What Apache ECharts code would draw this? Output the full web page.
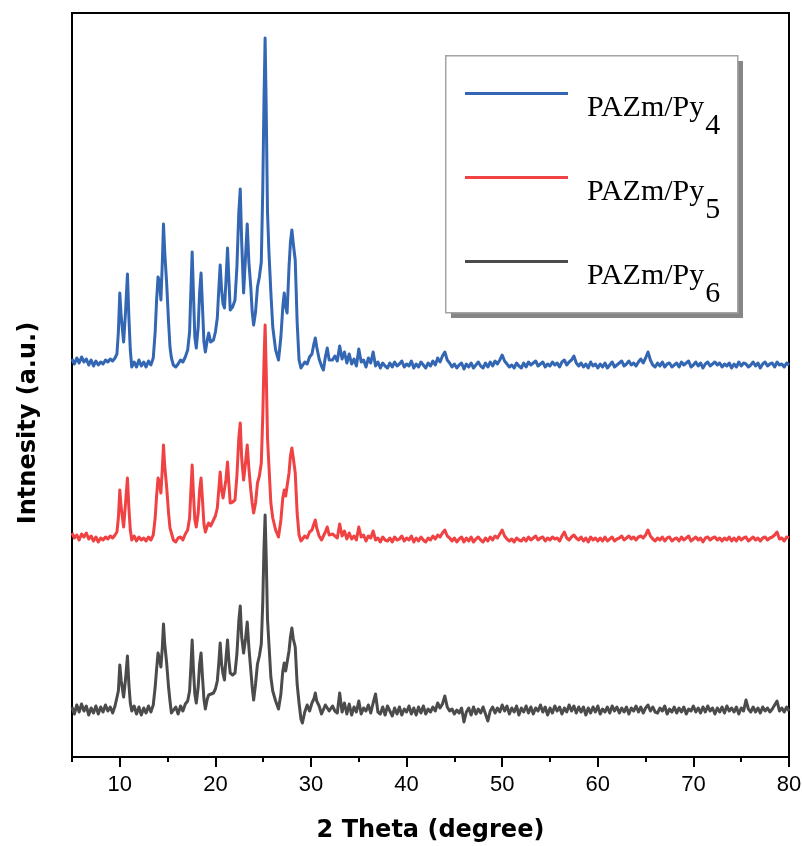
<!DOCTYPE html>
<html>
<head>
<meta charset="utf-8">
<title>XRD PAZm/Py</title>
<script src="https://cdn.jsdelivr.net/npm/echarts@6/dist/echarts.min.js"></script>
<style>
  html, body { margin: 0; padding: 0; background: #fff; }
  #chart { width: 802px; height: 846px; }
</style>
</head>
<body>
<div id="chart"></div>
<script>
// 2 theta (degree) sampling positions
const angles = [
  5, 5.25, 5.5, 5.75, 6, 6.25, 6.5, 6.75, 7, 7.25, 7.5, 7.75, 8, 8.25, 8.5, 8.75, 9, 9.25, 9.5,
  9.7, 9.85, 10.0, 10.15, 10.4, 10.6, 10.8, 10.95, 11.1, 11.25,
  11.5, 11.75, 12.0, 12.25, 12.5, 12.75, 13.0, 13.25, 13.5, 13.7,
  13.85, 14.0, 14.15, 14.3, 14.45, 14.57, 14.7, 14.9, 15.1, 15.25,
  15.4, 15.6, 15.85, 16.1, 16.35, 16.6, 16.85, 17.1, 17.3, 17.45,
  17.57, 17.7, 17.85, 18.0, 18.2, 18.35, 18.5, 18.65, 18.8, 18.95,
  19.15, 19.3, 19.5, 19.8, 20.0, 20.2, 20.35, 20.5, 20.65, 20.8,
  20.95, 21.1, 21.27, 21.4, 21.55, 21.8, 22.05, 22.25, 22.45, 22.6,
  22.75, 22.95, 23.15, 23.33, 23.5, 23.7, 23.85, 24.0, 24.2, 24.4,
  24.6, 24.8, 24.95, 25.08, 25.2, 25.32, 25.45, 25.6, 25.8, 26.0,
  26.3, 26.6, 26.85, 27.05, 27.2, 27.35, 27.5, 27.7, 27.85, 28.0,
  28.15, 28.35, 28.55, 28.75, 28.95, 29.1, 29.35, 29.6, 29.85, 30.1,
  30.3, 30.45, 30.6, 30.85, 31.1, 31.3, 31.5, 31.7, 31.9,
  32.25, 32.5, 32.75, 33, 33.25, 33.5, 33.75, 34,
  34.25, 34.5, 34.75, 35, 35.25, 35.5, 35.75, 36,
  36.25, 36.5, 36.75, 37, 37.25, 37.5, 37.75, 38,
  38.25, 38.5, 38.75, 39, 39.25, 39.5, 39.75, 40,
  40.25, 40.5, 40.75, 41, 41.25, 41.5, 41.75, 42,
  42.25, 42.5, 42.75, 43, 43.25, 43.5, 43.75, 44,
  44.25, 44.5, 44.75, 45, 45.25, 45.5, 45.75, 46,
  46.25, 46.5, 46.75, 47, 47.25, 47.5, 47.75, 48,
  48.25, 48.5, 48.75, 49, 49.25, 49.5, 49.75, 50,
  50.25, 50.5, 50.75, 51, 51.25, 51.5, 51.75, 52,
  52.25, 52.5, 52.75, 53, 53.25, 53.5, 53.75, 54,
  54.25, 54.5, 54.75, 55, 55.25, 55.5, 55.75, 56,
  56.25, 56.5, 56.75, 57, 57.25, 57.5, 57.75, 58,
  58.25, 58.5, 58.75, 59, 59.25, 59.5, 59.75, 60,
  60.25, 60.5, 60.75, 61, 61.25, 61.5, 61.75, 62,
  62.25, 62.5, 62.75, 63, 63.25, 63.5, 63.75, 64,
  64.25, 64.5, 64.75, 65, 65.25, 65.5, 65.75, 66,
  66.25, 66.5, 66.75, 67, 67.25, 67.5, 67.75, 68,
  68.25, 68.5, 68.75, 69, 69.25, 69.5, 69.75, 70,
  70.25, 70.5, 70.75, 71, 71.25, 71.5, 71.75, 72,
  72.25, 72.5, 72.75, 73, 73.25, 73.5, 73.75, 74,
  74.25, 74.5, 74.75, 75, 75.25, 75.5, 75.75, 76,
  76.25, 76.5, 76.75, 77, 77.25, 77.5, 77.75, 78,
  78.25, 78.5, 78.75, 79, 79.25, 79.5, 79.75, 80
];

// intensity above each pattern's own baseline (a.u.)
const pazmPy4 = [
  3, -2, 4, -1, 5, 0, 3, -3, 2, -4, 1, -3, 0, -2, 2, 0, 3, 1, 4,
  8, 30, 69, 45, 20, 50, 88, 45, 12, -5,
  0, -5, 2, -4, 0, -5, 1, -3, 4, 30,
  62, 85, 80, 62, 100, 138, 110, 79, 40, 15,
  4, -3, -5, -2, 2, 0, 5, 12, 30, 75,
  110, 70, 25, 14, 35, 70, 89, 55, 20, 10,
  22, 29, 20, 22, 30, 44, 72, 97, 72, 58,
  54, 80, 114, 85, 52, 55, 62, 95, 150, 173,
  120, 69, 105, 138, 100, 75, 50, 37, 50, 75,
  85, 100, 170, 260, 324, 250, 150, 110, 70, 35,
  12, 2, 25, 55, 69, 55, 49, 95, 120, 132,
  118, 102, 40, 2, -6, -8, 0, -2, 5, 8,
  18, 24, 15, 3, -4, -8, 5, 14, 2,
  2, 6, 1, 16, 3, 10, -1, 8,
  -2, 3, -4, 13, 0, 2, -5, 4,
  -1, 10, -4, 0, -6, -1, -4, -6,
  -1, -5, 0, -4, -2, 1, -5, -2,
  -4, 1, -6, -2, -5, 0, -3, -6,
  -1, -4, 1, -3, 4, 0, 6, 10,
  2, -1, -5, -2, -6, -3, -1, -7,
  -2, -5, -1, -6, -3, 0, -4, -6,
  -1, -5, 0, -4, 1, -2, 2, 7,
  1, -2, -5, -3, -6, -1, -4, -6,
  -1, -5, 0, -3, -1, 1, -4, -2,
  0, -5, -2, -4, 0, -3, -1, -5,
  0, 2, -3, 0, 2, 6, -1, -4,
  -1, -5, -2, -6, 0, -4, -2, -6,
  -2, -5, -1, -6, -3, 0, -5, -3,
  -1, 1, -4, -2, 1, -3, -1, -4,
  0, 3, -1, 4, 10, 2, -3, -5,
  -1, -4, 0, -5, -2, -1, -5, -3,
  -1, -5, 0, -3, -1, 1, -5, -3,
  0, -4, -1, -6, -2, 0, -4, -2,
  0, -3, -1, -5, -2, -4, -1, -6,
  -2, -5, 0, -4, -1, -2, -5, -3,
  0, -4, -1, -6, -2, 0, -4, -2,
  -1, -5, 0, -3, -2, -5, -1, -3
];

const pazmPy5 = [
  5, 0, 3, -2, 4, 1, 5, -1, 2, -3, 1, -4, 0, -2, 1, -1, 2, 0, 3,
  6, 20, 48, 30, 11, 35, 60, 30, 8, -2,
  2, -3, 1, -2, 0, -3, 1, -2, 3, 20,
  42, 60, 55, 45, 70, 93, 72, 51, 25, 10,
  5, -2, -4, 0, 1, -2, 4, 8, 20, 50,
  73, 45, 18, 11, 25, 48, 60, 38, 14, 6,
  12, 15, 12, 18, 22, 30, 48, 66, 48, 40,
  38, 58, 76, 56, 35, 36, 38, 62, 100, 115,
  80, 58, 75, 93, 70, 48, 35, 25, 35, 55,
  62, 75, 120, 175, 213, 165, 100, 72, 35, 20,
  8, 1, 18, 40, 48, 42, 41, 65, 82, 90,
  80, 65, 25, 3, -3, -5, 2, 0, 6, 8,
  14, 18, 10, 2, -2, -4, 6, 11, 3,
  4, 2, 0, 14, 2, 7, -1, 5,
  -1, 2, -2, 11, 1, 3, -3, 2,
  0, 7, -2, 0, -4, 1, -2, -3,
  0, -4, 1, -2, -1, 2, -3, 0,
  -2, 2, -4, 0, -3, 1, -2, -4,
  0, -2, 2, -1, 3, 1, 5, 8,
  2, 0, -3, 0, -4, -1, 1, -4,
  0, -3, 1, -4, -1, 1, -2, -4,
  0, -3, 1, -2, 2, 0, 4, 8,
  2, -1, -3, -1, -4, 0, -2, -3,
  0, -3, 1, -2, 0, 2, -2, 0,
  1, -3, 0, -2, 1, -1, 0, -3,
  2, 6, 0, -2, 1, 3, 0, -2,
  1, -3, 0, -4, 1, -2, 0, -3,
  0, -3, 1, -3, -1, 1, -3, -1,
  0, 2, -2, 0, 2, -1, 1, -2,
  1, 2, 0, 3, 8, 2, -1, -3,
  0, -2, 1, -3, 0, 1, -3, -1,
  0, -3, 1, -2, 0, 2, -3, -1,
  1, -2, 0, -4, 0, 1, -2, 0,
  1, -2, 0, -3, 0, -2, 1, -3,
  0, -3, 1, -2, 0, 1, -3, -1,
  1, -2, 0, -3, 0, 1, -2, 0,
  1, 3, 6, -1, 0, -3, 1, 0
];

const pazmPy6 = [
  2, -5, 4, -3, 5, -2, 3, -6, 1, -4, 3, -5, 2, -3, 4, -2, 2, -4, 3,
  5, 18, 44, 28, 12, 30, 53, 25, 6, -2,
  3, -5, 2, -6, 1, -4, 3, -3, 4, 22,
  40, 56, 50, 42, 62, 85, 65, 46, 22, 8,
  -4, -6, 2, -5, 3, -2, 5, 8, 18, 45,
  69, 40, 15, 6, 22, 45, 56, 32, 10, 0,
  10, 14, 12, 16, 20, 28, 45, 66, 45, 35,
  29, 50, 69, 50, 36, 34, 36, 55, 88, 103,
  72, 56, 70, 87, 62, 39, 22, 9, 25, 45,
  53, 65, 105, 160, 194, 150, 90, 65, 32, 18,
  8, 0, 15, 38, 46, 38, 36, 58, 72, 81,
  70, 62, 25, 6, -10, -14, -3, 4, -2, 6,
  10, 16, 8, 3, -5, -3, 4, 6, -2,
  3, -2, -4, 16, -3, 6, -5, 5,
  -6, 2, -3, 8, -5, 1, -2, 4,
  -4, 6, 15, -3, -5, 2, -6, 3,
  -2, -7, 1, -5, 2, -6, 0, -3,
  3, -5, 1, -6, 2, -4, 3, -5,
  0, -3, 2, -2, 6, 1, 5, 13,
  2, -2, 0, -5, -1, -4, 1, -13,
  -3, 1, -6, 2, -5, 0, -4, 2,
  -5, -12, -2, 2, -4, 1, -3, 4,
  -2, 3, -5, 1, -3, 3, -6, 1,
  -3, 3, -4, 2, -5, 1, -2, 4,
  -3, 2, -6, 1, -4, 3, -2, 2,
  -5, 1, -3, 4, -2, 3, -4, 2,
  -3, 2, -6, 1, -4, 2, -3, 3,
  -5, 0, -3, 2, -4, 3, -2, 2,
  -4, 1, -3, 2, -5, 1, -2, 3,
  -3, 2, -4, 1, 4, -2, 2, -3,
  -4, 1, -2, 3, -5, 0, -3, 2,
  -4, 1, -3, 2, -5, 0, -2, 3,
  -3, 1, -4, 2, -3, 3, -2, 1,
  -5, 1, -3, 2, -4, 3, -2, 1,
  -3, 2, -5, 1, -2, 9, 0, -3,
  2, -3, 1, -4, 2, -2, 1, -3,
  0, 4, 8, -2, 1, -3, 2, -2
];

// vertical stacking offset of each pattern
const stackOffset = [395, 219, 48];
const seriesNames = ['PAZm/Py4', 'PAZm/Py5', 'PAZm/Py6'];
const seriesColors = ['#3366b3', '#f04143', '#4b4b4b'];
const majorTicks = [10, 20, 30, 40, 50, 60, 70, 80];
const minorTicks = [5, 15, 25, 35, 45, 55, 65, 75];

const patterns = [pazmPy4, pazmPy5, pazmPy6];

function toPoints(values, offset) {
  return angles.map((a, i) => [a, values[i] + offset]);
}

const chart = echarts.init(document.getElementById('chart'), null, { renderer: 'canvas' });

const axisFont = 'Liberation Sans, Arial, sans-serif';
const titleFont = { fontFamily: 'DejaVu Sans', fontWeight: 'bold', fontSize: 24, color: '#000' };

chart.setOption({
  animation: false,
  backgroundColor: '#fff',
  grid: {
    left: 72, right: 13, top: 13, bottom: 89,
    show: true, borderColor: '#000', borderWidth: 2,
    outerBoundsMode: 'none'
  },
  // legend frame with its drop shadow
  graphic: [
    { type: 'rect', left: 451, top: 61, z: 1, silent: true,
      shape: { width: 292, height: 257 }, style: { fill: '#868686' } },
    { type: 'rect', left: 445, top: 55, z: 1, silent: true,
      shape: { width: 292, height: 257 }, style: { fill: '#fff', stroke: '#a3a3a3', lineWidth: 1.5 } }
  ],
  legend: {
    orient: 'vertical',
    left: 445, top: 56, z: 5,
    padding: [31, 14, 7, 20],
    itemWidth: 103, itemHeight: 42, itemGap: 30,
    icon: 'path://M0,0H0.5V0Z M0,5H103V8H0Z M0,42H0.5V42Z',
    data: seriesNames,
    formatter: name => '{a|PAZm/Py}{s|' + name.slice(7) + '}',
    textStyle: {
      color: '#000',
      rich: {
        a: { fontFamily: 'Liberation Serif', fontSize: 30, lineHeight: 30, verticalAlign: 'top', padding: [0, 0, 0, 14], color: '#000' },
        s: { fontFamily: 'Liberation Serif', fontSize: 30, lineHeight: 30, verticalAlign: 'top', padding: [18, 0, 0, 1], color: '#000' }
      }
    }
  },
  xAxis: [{
    type: 'value', min: 5, max: 80, position: 'bottom',
    name: '2 Theta (degree)', nameLocation: 'middle', nameGap: 62,
    nameMoveOverlap: false,
    nameTextStyle: titleFont,
    axisLine: { lineStyle: { color: '#000', width: 2 } },
    axisTick: { customValues: majorTicks, length: 10, lineStyle: { color: '#000', width: 2 } },
    axisLabel: { customValues: majorTicks, margin: 17, fontFamily: axisFont, fontSize: 22, color: '#000' },
    splitLine: { show: false }
  }, {
    type: 'value', min: 5, max: 80, position: 'bottom', gridIndex: 0,
    axisLine: { show: false },
    axisTick: { customValues: minorTicks, length: 5, lineStyle: { color: '#000', width: 2 } },
    axisLabel: { show: false },
    splitLine: { show: false }
  }],
  yAxis: {
    type: 'value', min: 0, max: 744,
    name: 'Intnesity (a.u.)', nameLocation: 'middle', nameGap: 31,
    nameMoveOverlap: false,
    nameTextStyle: Object.assign({ padding: [0, 76, 0, 0] }, titleFont),
    axisLine: { show: true, lineStyle: { color: '#000', width: 2 } },
    axisTick: { show: false },
    axisLabel: { show: false },
    splitLine: { show: false }
  },
  series: patterns.map((values, k) => ({
    name: seriesNames[k],
    type: 'line',
    xAxisIndex: 0,
    symbol: 'none',
    color: seriesColors[k],
    lineStyle: { width: 3, color: seriesColors[k], join: 'round' },
    data: toPoints(values, stackOffset[k])
  }))
});
</script>
</body>
</html>
